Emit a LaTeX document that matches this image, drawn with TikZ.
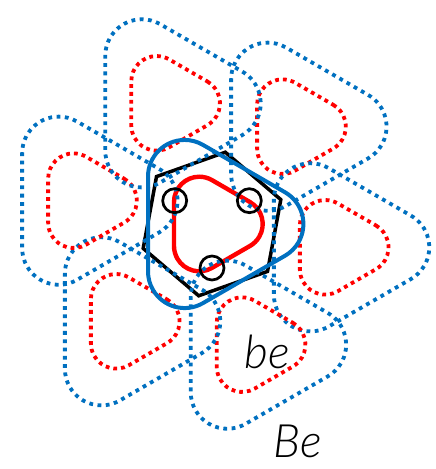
\documentclass[tikz,border=0pt]{standalone}
\usepackage{fontspec}
\newfontfamily\labelfont{Lato Light Italic}
\usetikzlibrary{calc}
\definecolor{cellRed}{RGB}{255,0,0}
\definecolor{cellBlue}{RGB}{0,112,192}

% rounded triangle: options, centre, vertex radius, corner radius
\newcommand\roundtri[4]{%
  \path[#1] ($(#2)+(0:#3)+(-60:#4)$)
    arc[start angle=-60,end angle=60,radius=#4]
    -- ($(#2)+(120:#3)+(60:#4)$)
    arc[start angle=60,end angle=180,radius=#4]
    -- ($(#2)+(240:#3)+(180:#4)$)
    arc[start angle=180,end angle=300,radius=#4]
    -- cycle;}

\begin{document}
\begin{tikzpicture}[
  x=1pt,y=-1pt,
  bedot/.style={draw=cellRed,line width=3.8pt,dash pattern=on 3.8pt off 4pt},
  Bedot/.style={draw=cellBlue,line width=3.8pt,dash pattern=on 3.8pt off 4.5pt},
  beline/.style={draw=cellRed,line width=4.4pt},
  Beline/.style={draw=cellBlue,line width=4pt},
  cell/.style={draw=black,line width=3.5pt,line join=miter},
  ring/.style={draw=black,line width=2.7pt},
  lbl/.style={font=\labelfont\fontsize{46}{50}\selectfont,inner sep=0pt,anchor=base}
]
\useasboundingbox (0,0) rectangle (436,469);

\def\rR{25.4}  \def\rr{25.3}   % small triangle
\def\bR{54.8}  \def\br{36.6}   % large triangle
\def\dist{128}                 % lattice spacing
\def\tilt{-49.5}

\coordinate (C) at (212,224);
\foreach \k in {0,...,5}{
  \coordinate (n\k) at ($(C)+({\tilt+60*\k}:\dist)$);
}

% ---- Wigner-Seitz cell ----
\draw[cell] ($(C)+({\tilt+30}:73)$)
  \foreach \k in {1,...,5}{ -- ($(C)+({\tilt+30+60*\k}:73)$) } -- cycle;

% ---- central cell ----
\roundtri{beline}{C}{\rR}{\rr}

% ---- neighbours (dotted) ----
\foreach \k in {0,...,5}{
  \roundtri{Bedot}{n\k}{\bR}{\br}
  \roundtri{bedot}{n\k}{\rR}{\rr}
}

\roundtri{Beline}{C}{\bR}{\br}

% ---- crossings ----
\foreach \a [count=\i] in {-148,-32,90}{
  \node[ring,circle,minimum size=24pt,inner sep=0pt] (x\i) at ($(C)+(\a:44)$) {};
}

% ---- labels ----
\node[lbl] (lblbe) at (267,368) {be};
\node[lbl] (lblBe) at (298,457) {Be};
\end{tikzpicture}
\end{document}
